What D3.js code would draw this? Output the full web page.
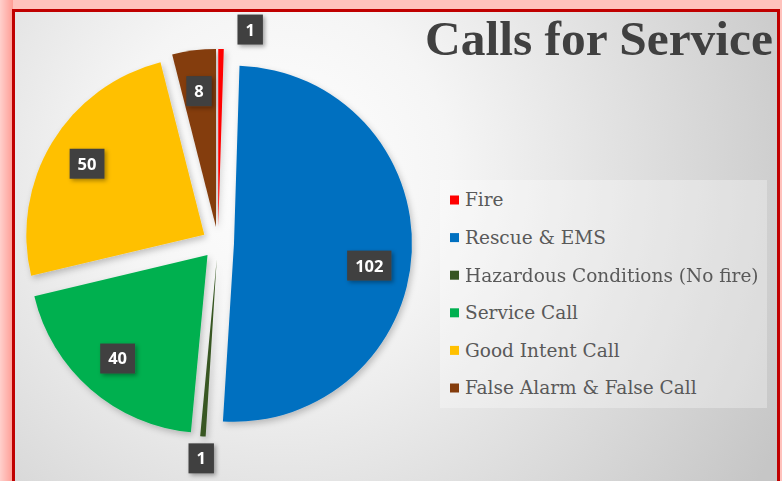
<!DOCTYPE html>
<html lang="en">
<head>
	<meta charset="UTF-8">
	<title>Calls for Service</title>
	<style>
		html, body { margin: 0; padding: 0; background: #fff; }
		svg { display: block; }
	</style>
</head>
<body>
	<script src="https://d3js.org/d3.v7.min.js"></script>
	<script>
		// data
		var categories = ["Fire", "Rescue & EMS", "Hazardous Conditions (No fire)", "Service Call", "Good Intent Call", "False Alarm & False Call"];
		var calls = [1, 102, 1, 40, 50, 8];
		var sliceColors = ["#ff0000", "#0070c0", "#375623", "#00b050", "#ffc000", "#843c0c"];
		var title = "Calls for Service";

		var w = 782,
			h = 481,
			cx = 218,
			cy = 243,
			radius = 178,
			explode = 16;

		// Excel nudged a couple of labels off the slice middle
		var labelTurn = {"Fire": 8.3, "Rescue & EMS": 6.5};

		var data = categories.map(function(c, i) {
			return {name: c, value: calls[i], color: sliceColors[i]};
		});

		var svg = d3.select("body").append("svg")
			.attr("width", w)
			.attr("height", h);

		var defs = svg.append("defs");

		var bg = defs.append("radialGradient")
			.attr("id", "bg")
			.attr("gradientUnits", "userSpaceOnUse")
			.attr("cx", 280).attr("cy", 170).attr("r", 570);
		bg.append("stop").attr("offset", 0).attr("stop-color", "#ffffff");
		bg.append("stop").attr("offset", 0.3).attr("stop-color", "#f5f5f5");
		bg.append("stop").attr("offset", 1).attr("stop-color", "#c6c6c6");

		var glow = defs.append("linearGradient").attr("id", "glowL").attr("x1", 0).attr("x2", 1);
		glow.append("stop").attr("offset", 0).attr("stop-color", "#ffd0cc");
		glow.append("stop").attr("offset", 1).attr("stop-color", "#ff9c94");

		var shadow = defs.append("filter").attr("id", "shadow")
			.attr("x", "-20%").attr("y", "-20%").attr("width", "140%").attr("height", "140%");
		shadow.append("feDropShadow")
			.attr("dx", 2).attr("dy", 3)
			.attr("stdDeviation", 3)
			.attr("flood-color", "#000")
			.attr("flood-opacity", 0.22);

		var boxShadow = defs.append("filter").attr("id", "boxShadow")
			.attr("x", "-40%").attr("y", "-40%").attr("width", "180%").attr("height", "180%");
		boxShadow.append("feDropShadow")
			.attr("dx", 2).attr("dy", 2)
			.attr("stdDeviation", 2)
			.attr("flood-color", "#000")
			.attr("flood-opacity", 0.35);

		// frame
		svg.append("rect").attr("width", w).attr("height", h).attr("fill", "#ffc2bc");
		svg.append("rect").attr("x", 0).attr("y", 0).attr("width", 13).attr("height", h).attr("fill", "url(#glowL)");
		svg.append("rect")
			.attr("x", 13.5).attr("y", 10.5)
			.attr("width", 765).attr("height", h)
			.attr("fill", "url(#bg)")
			.attr("stroke", "#c00000")
			.attr("stroke-width", 3);

		// title
		svg.append("text")
			.attr("x", 425)
			.attr("y", 55)
			.attr("font-family", "Liberation Serif, serif")
			.attr("font-weight", "bold")
			.attr("font-size", "48px")
			.attr("textLength", 348)
			.attr("lengthAdjust", "spacingAndGlyphs")
			.attr("fill", "#404040")
			.text(title);

		// pie
		var pie = d3.pie().sort(null).value(function(d) { return d.value; });
		var arc = d3.arc().innerRadius(0).outerRadius(radius);
		var arcs = pie(data);

		function mid(d) { return (d.startAngle + d.endAngle) / 2; }

		var slices = svg.append("g")
			.attr("transform", "translate(" + cx + "," + cy + ")")
			.attr("filter", "url(#shadow)");

		slices.selectAll("path")
			.data(arcs)
			.enter()
			.append("path")
			.attr("d", arc)
			.attr("fill", function(d) { return d.data.color; })
			.attr("transform", function(d) {
				var a = mid(d);
				return "translate(" + (Math.sin(a) * explode) + "," + (-Math.cos(a) * explode) + ")";
			});

		// data labels
		var labels = svg.append("g")
			.attr("transform", "translate(" + cx + "," + cy + ")");

		var lab = labels.selectAll("g")
			.data(arcs)
			.enter()
			.append("g")
			.attr("transform", function(d) {
				var a = mid(d);
				var ox = Math.sin(a) * explode, oy = -Math.cos(a) * explode;
				var small = (d.endAngle - d.startAngle) < 0.1;
				var r = small ? radius + 22 : radius * 0.77;
				var la = a + (labelTurn[d.data.name] || 0) * Math.PI / 180;
				return "translate(" + (ox + Math.sin(la) * r) + "," + (oy - Math.cos(la) * r) + ")";
			});

		lab.append("rect")
			.attr("fill", "#404040")
			.attr("filter", "url(#boxShadow)");

		lab.append("text")
			.attr("text-anchor", "middle")
			.attr("dy", "0.36em")
			.attr("font-family", "Open Sans, sans-serif")
			.attr("font-weight", "bold")
			.attr("font-size", "16.5px")
			.attr("fill", "#fff")
			.text(function(d) { return d.value; });

		lab.each(function() {
			var g = d3.select(this);
			var tw = g.select("text").node().getComputedTextLength();
			var bw = Math.max(25, tw + 16), bh = 30;
			g.select("rect")
				.attr("x", -bw / 2).attr("y", -bh / 2)
				.attr("width", bw).attr("height", bh);
		});

		// legend
		var legend = svg.append("g");
		legend.append("rect")
			.attr("x", 440).attr("y", 180)
			.attr("width", 327).attr("height", 228)
			.attr("fill", "#ffffff")
			.attr("fill-opacity", 0.3);

		var rowStep = 37.6;
		var item = legend.selectAll("g.item")
			.data(data)
			.enter()
			.append("g")
			.attr("class", "item")
			.attr("transform", function(d, i) { return "translate(450," + (200 + i * rowStep) + ")"; });

		item.append("rect")
			.attr("x", 0).attr("y", -4.5)
			.attr("width", 9).attr("height", 9)
			.attr("fill", function(d) { return d.color; });

		item.append("text")
			.attr("x", 15)
			.attr("dy", "0.35em")
			.attr("font-family", "DejaVu Serif, serif")
			.attr("font-size", "18.5px")
			.attr("fill", "#595959")
			.text(function(d) { return d.name; });
	</script>
</body>
</html>
